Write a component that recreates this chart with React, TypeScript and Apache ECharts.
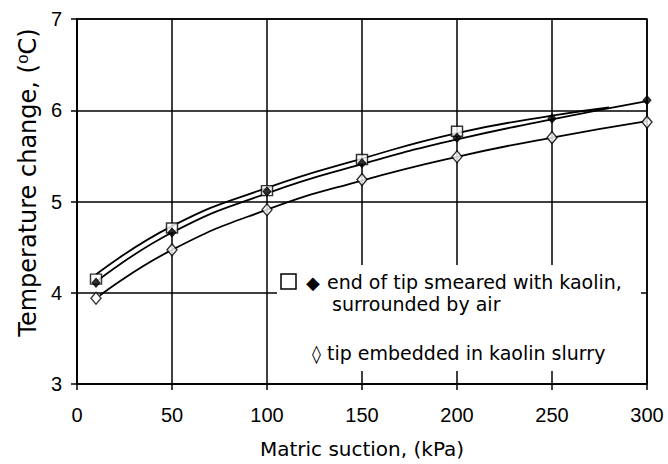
import React, { useEffect, useRef } from "react";
import * as echarts from "echarts";

// Matric suction (kPa) and temperature change (°C)
const squareX = [10, 50, 100, 150, 200];
const squareY = [4.15, 4.71, 5.12, 5.46, 5.77];
const filledX = [10, 50, 100, 150, 200, 250, 300];
const filledY = [4.11, 4.66, 5.11, 5.42, 5.7, 5.91, 6.11];
const openX = [10, 50, 100, 150, 200, 250, 300];
const openY = [3.94, 4.47, 4.91, 5.24, 5.49, 5.7, 5.87];

// fitted trend curves
const squareCurveX = [10, 50, 100, 150, 200, 250, 280];
const squareCurveY = [4.2, 4.73, 5.15, 5.47, 5.75, 5.94, 6.03];
const filledCurveX = [10, 50, 100, 150, 200, 250, 300];
const filledCurveY = [4.12, 4.66, 5.09, 5.41, 5.68, 5.9, 6.1];
const openCurveX = [12, 50, 100, 150, 200, 250, 300];
const openCurveY = [3.97, 4.47, 4.91, 5.23, 5.49, 5.7, 5.88];

const xTicks = [0, 50, 100, 150, 200, 250, 300];
const yTicks = [3, 4, 5, 6, 7];

const zip = (xs: number[], ys: number[]) => xs.map((x, i) => [x, ys[i]]);

export default function App() {
  const ref = useRef<HTMLDivElement>(null);
  useEffect(() => {
    document.body.style.margin = "0";
    const chart = echarts.init(ref.current!, null, { renderer: "svg" });
    const tickFont = "'Liberation Sans', Arial, sans-serif";
    const textFont = "'DejaVu Sans', sans-serif";
    const curveStyle = { color: "#000", width: 1.8 };
    chart.setOption({
      animation: false,
      backgroundColor: "#fff",
      grid: {
        left: 77,
        right: 21,
        top: 19,
        bottom: 80,
        show: true,
        borderColor: "#000",
        borderWidth: 1.5,
      },
      xAxis: {
        type: "value",
        min: xTicks[0],
        max: xTicks[xTicks.length - 1],
        interval: 50,
        name: "Matric suction, (kPa)",
        nameLocation: "middle",
        nameGap: 55,
        nameTextStyle: { fontFamily: textFont, fontSize: 20, color: "#000" },
        axisLine: { lineStyle: { color: "#000", width: 1.5 } },
        axisTick: { show: true, length: 6, lineStyle: { color: "#000", width: 1.5 } },
        axisLabel: { fontFamily: tickFont, fontSize: 20, color: "#000", margin: 21 },
        splitLine: { show: true, lineStyle: { color: "#000", width: 1.5 } },
      },
      yAxis: {
        type: "value",
        min: yTicks[0],
        max: yTicks[yTicks.length - 1],
        interval: 1,
        name: "Temperature change, (⁰C)",
        nameLocation: "middle",
        nameGap: 36,
        nameTextStyle: {
          fontFamily: textFont,
          fontSize: 24,
          color: "#000",
          padding: [0, 0, 0, 38],
        },
        axisLine: { show: true, lineStyle: { color: "#000", width: 1.5 } },
        axisTick: { show: true, length: 6, lineStyle: { color: "#000", width: 1.5 } },
        axisLabel: { fontFamily: tickFont, fontSize: 20, color: "#000", margin: 15 },
        splitLine: { show: true, lineStyle: { color: "#000", width: 1.5 } },
      },
      series: [
        {
          type: "line",
          smooth: true,
          showSymbol: false,
          data: zip(squareCurveX, squareCurveY),
          lineStyle: curveStyle,
        },
        {
          type: "line",
          smooth: true,
          showSymbol: false,
          data: zip(filledCurveX, filledCurveY),
          lineStyle: curveStyle,
        },
        {
          type: "line",
          smooth: true,
          showSymbol: false,
          data: zip(openCurveX, openCurveY),
          lineStyle: curveStyle,
        },
        {
          type: "scatter",
          symbol: "rect",
          symbolSize: [11, 10],
          data: zip(squareX, squareY),
          itemStyle: { color: "#fff", borderColor: "#000", borderWidth: 1.4 },
          z: 5,
        },
        {
          type: "scatter",
          symbol: "diamond",
          symbolSize: [8, 9],
          data: zip(filledX, filledY),
          itemStyle: { color: "#000", borderColor: "#000", borderWidth: 1 },
          z: 6,
        },
        {
          type: "scatter",
          symbol: "diamond",
          symbolSize: [10, 12],
          data: zip(openX, openY),
          itemStyle: { color: "#fff", borderColor: "#000", borderWidth: 1.4 },
          z: 6,
        },
      ],
      graphic: [
        {
          type: "rect",
          z: 100,
          shape: { x: 277, y: 265, width: 364, height: 106 },
          style: { fill: "#fff" },
        },
        {
          type: "rect",
          z: 101,
          shape: { x: 281, y: 274, width: 15, height: 15 },
          style: { fill: "#fff", stroke: "#000", lineWidth: 1.5 },
        },
        {
          type: "text",
          z: 101,
          x: 306,
          y: 282,
          style: { text: "◆", font: `18px ${textFont}`, fill: "#000", textVerticalAlign: "middle" },
        },
        {
          type: "text",
          z: 101,
          x: 327,
          y: 282,
          style: {
            text: "end of tip smeared with kaolin,",
            font: `19px ${textFont}`,
            fill: "#000",
            textVerticalAlign: "middle",
          },
        },
        {
          type: "text",
          z: 101,
          x: 332,
          y: 304,
          style: {
            text: "surrounded by air",
            font: `19px ${textFont}`,
            fill: "#000",
            textVerticalAlign: "middle",
          },
        },
        {
          type: "text",
          z: 101,
          x: 312,
          y: 353,
          style: { text: "◊", font: `18px ${textFont}`, fill: "#000", textVerticalAlign: "middle" },
        },
        {
          type: "text",
          z: 101,
          x: 327,
          y: 353,
          style: {
            text: "tip embedded in kaolin slurry",
            font: `19px ${textFont}`,
            fill: "#000",
            textVerticalAlign: "middle",
          },
        },
      ],
    });
    return () => chart.dispose();
  }, []);
  return <div ref={ref} style={{ width: 668, height: 464 }} />;
}
